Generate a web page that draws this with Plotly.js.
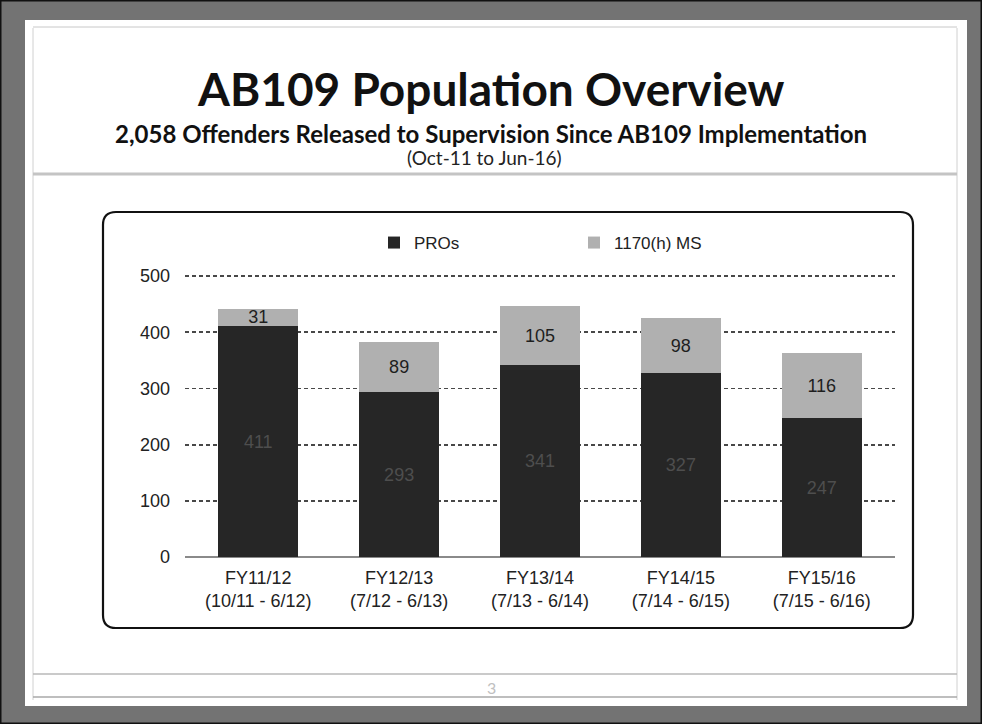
<!DOCTYPE html>
<html>
<head>
<meta charset="utf-8">
<script src="https://cdn.plot.ly/plotly-3.0.1.min.js"></script>
<style>
html,body{margin:0;padding:0;background:#fff;}
#chart{width:982px;height:724px;}
</style>
</head>
<body>
<div id="chart"></div>
<script>
const categories = [
  "FY11/12<br>(10/11 - 6/12)",
  "FY12/13<br>(7/12 - 6/13)",
  "FY13/14<br>(7/13 - 6/14)",
  "FY14/15<br>(7/14 - 6/15)",
  "FY15/16<br>(7/15 - 6/16)"
];
const pros = [411, 293, 341, 327, 247];
const ms = [31, 89, 105, 98, 116];
const yTicks = [0, 100, 200, 300, 400, 500];

const W = 982, H = 724;
const L = 185, R = 87, T = 275, B = 167;
const pw = W - L - R, ph = H - T - B;
const px = x => (x - L) / pw;
const py = y => (H - B - y) / ph;

function rect(x0, y0, x1, y1, fill, line, lw, layer) {
  return {type: 'rect', xref: 'paper', yref: 'paper', x0: px(x0), x1: px(x1), y0: py(y1), y1: py(y0),
    fillcolor: fill, line: {color: line || 'rgba(0,0,0,0)', width: lw || 0}, layer: layer || 'below'};
}
function hline(x0, x1, y, color, w, layer) {
  return {type: 'line', xref: 'paper', yref: 'paper', x0: px(x0), x1: px(x1), y0: py(y), y1: py(y),
    line: {color: color, width: w}, layer: layer || 'below'};
}
function vline(x, y0, y1, color, w) {
  return {type: 'line', xref: 'paper', yref: 'paper', x0: px(x), x1: px(x), y0: py(y0), y1: py(y1),
    line: {color: color, width: w}, layer: 'below'};
}
function roundRect(x0, y0, x1, y1, r) {
  const X = v => px(v), Y = v => py(v);
  return {type: 'path', xref: 'paper', yref: 'paper', layer: 'below',
    path: `M ${X(x0 + r)} ${Y(y0)} L ${X(x1 - r)} ${Y(y0)} Q ${X(x1)} ${Y(y0)} ${X(x1)} ${Y(y0 + r)} ` +
          `L ${X(x1)} ${Y(y1 - r)} Q ${X(x1)} ${Y(y1)} ${X(x1 - r)} ${Y(y1)} ` +
          `L ${X(x0 + r)} ${Y(y1)} Q ${X(x0)} ${Y(y1)} ${X(x0)} ${Y(y1 - r)} ` +
          `L ${X(x0)} ${Y(y0 + r)} Q ${X(x0)} ${Y(y0)} ${X(x0 + r)} ${Y(y0)} Z`,
    fillcolor: '#ffffff', line: {color: '#111111', width: 2.2}};
}

const shapes = [
  rect(0, 0, W, H, '#737373', '#111', 3),
  rect(25, 20, 967, 706, '#ffffff'),
  vline(33, 28, 700, '#d0d0d0', 1),
  vline(957, 28, 700, '#d0d0d0', 1),
  hline(33, 957, 27, '#c8c8c8', 1),
  hline(33, 957, 174, '#c4c4c4', 3),
  hline(33, 957, 674, '#b8b8b8', 1.5),
  hline(33, 957, 697, '#a8a8a8', 1.5),
  roundRect(103, 212, 913, 628, 13)
];

const sans = 'Liberation Sans, Arial, sans-serif';
const labelFont = {family: sans, size: 18};

const data = [
  {type: 'bar', name: 'PROs', x: categories, y: pros, text: pros.map(String),
   textposition: 'inside', insidetextanchor: 'middle', textangle: 0,
   textfont: Object.assign({}, labelFont, {color: '#4e4e4e'}),
   marker: {color: '#262626', line: {width: 0}}, hoverinfo: 'y'},
  {type: 'bar', name: '1170(h) MS', x: categories, y: ms, text: ms.map(String),
   textposition: 'inside', insidetextanchor: 'middle', textangle: 0,
   textfont: Object.assign({}, labelFont, {color: '#1e1e1e'}),
   marker: {color: '#b0b0b0', line: {width: 0}}, hoverinfo: 'y'}
];

const titleFont = 'Lato, Open Sans, sans-serif';
const layout = {
  width: W, height: H,
  margin: {l: L, r: R, t: T, b: B},
  paper_bgcolor: '#ffffff', plot_bgcolor: 'rgba(0,0,0,0)',
  barmode: 'stack', bargap: 0.43,
  uniformtext: {minsize: 18, mode: 'show'},
  showlegend: true,
  legend: {orientation: 'h', traceorder: 'normal', x: px(374), xanchor: 'left', y: py(243), yanchor: 'middle',
    font: {family: sans, size: 17, color: '#222'},
    entrywidth: 155, entrywidthmode: 'pixels', bgcolor: 'rgba(0,0,0,0)', itemclick: false},
  xaxis: {type: 'category', range: [-0.52, 4.52], showgrid: false, zeroline: false, showline: false, ticks: '',
    ticklabelstandoff: 8,
    tickfont: {family: sans, size: 18, color: '#222'},
    fixedrange: true},
  yaxis: {range: [0, 502], tickvals: yTicks, ticktext: yTicks.map(String),
    showgrid: true, gridcolor: '#484848', gridwidth: 1.8, griddash: '4px,3px',
    zeroline: true, zerolinecolor: '#8a8a8a', zerolinewidth: 2,
    showline: false, ticks: '', ticklabelstandoff: 14,
    tickfont: {family: sans, size: 18, color: '#222'},
    fixedrange: true},
  shapes: shapes,
  annotations: [
    {text: '<b>AB109 Population Overview</b>', xref: 'paper', yref: 'paper', x: px(491), y: py(88),
     xanchor: 'center', yanchor: 'middle', showarrow: false,
     font: {family: titleFont, size: 46, color: '#111'}},
    {text: '<b>2,058 Offenders Released to Supervision Since AB109 Implementation</b>', xref: 'paper', yref: 'paper',
     x: px(491), y: py(133), xanchor: 'center', yanchor: 'middle', showarrow: false,
     font: {family: titleFont, size: 24, color: '#111'}},
    {text: '(Oct-11 to Jun-16)', xref: 'paper', yref: 'paper', x: px(484), y: py(157),
     xanchor: 'center', yanchor: 'middle', showarrow: false,
     font: {family: titleFont, size: 19, color: '#222'}},
    {text: '3', xref: 'paper', yref: 'paper', x: px(491), y: py(687),
     xanchor: 'center', yanchor: 'middle', showarrow: false,
     font: {family: titleFont, size: 16, color: '#c0c0c0'}}
  ]
};

Plotly.newPlot('chart', data, layout, {displayModeBar: false, staticPlot: true});
</script>
</body>
</html>
